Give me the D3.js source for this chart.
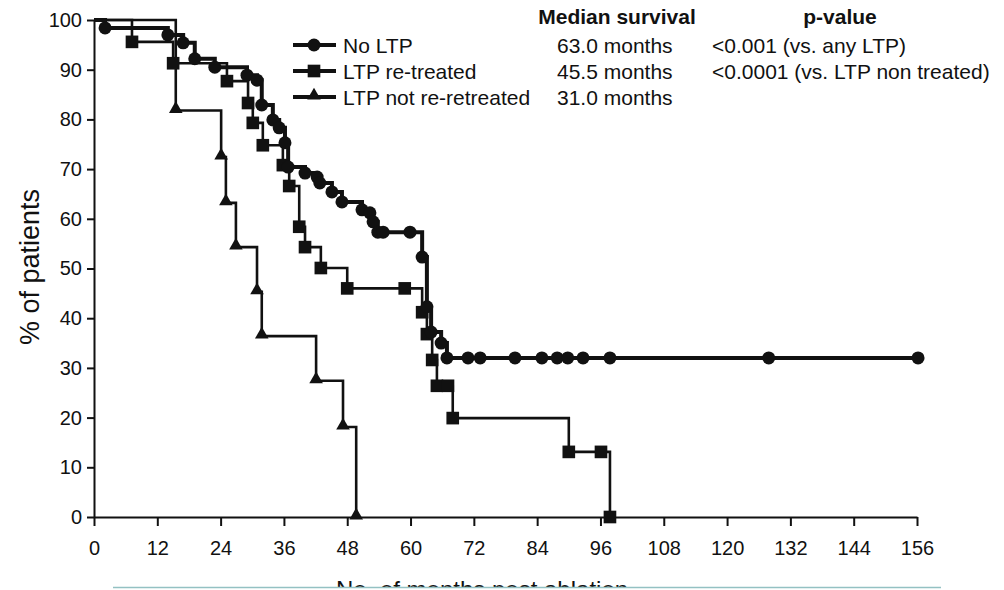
<!DOCTYPE html>
<html>
<head>
<meta charset="utf-8">
<script src="https://cdn.jsdelivr.net/npm/d3@7"></script>
<style>
  html, body { margin: 0; padding: 0; background: #fff; }
  svg { display: block; }
  text { font-family: "Liberation Sans", Arial, Helvetica, sans-serif; fill: #111; }
</style>
</head>
<body>
<svg id="chart" width="1004" height="590"></svg>
<script>
// Kaplan–Meier survival by local tumour progression (LTP) status.
// Each series: times (months) and survival (%) at every recorded point
// (events drop the curve, censored points sit on the flat segments).
const noLtpTimes = [2.1, 14.0, 16.9, 19.1, 22.9, 29.0, 30.9, 31.8, 33.9, 35.1, 36.2, 36.8,
  40.0, 42.3, 42.8, 45.1, 47.0, 50.8, 52.3, 52.9, 53.8, 54.8, 59.9, 62.2, 63.1, 63.9, 65.8,
  66.9, 70.9, 73.2, 79.8, 84.9, 87.8, 89.8, 92.7, 97.8, 127.9, 156.2];
const noLtpSurv = [98.4, 97.0, 95.4, 92.2, 90.5, 88.9, 87.9, 82.9, 79.9, 78.3, 75.3, 70.4,
  69.2, 68.4, 67.2, 65.4, 63.4, 61.8, 61.2, 59.4, 57.3, 57.3, 57.3, 52.3, 42.3, 37.2, 35.0,
  32.0, 32.0, 32.0, 32.0, 32.0, 32.0, 32.0, 32.0, 32.0, 32.0, 32.0];

const reTreatedTimes = [7.2, 15.0, 25.2, 29.2, 30.1, 32.0, 35.8, 37.0, 38.9, 40.0, 43.0, 48.0,
  58.9, 62.2, 63.1, 64.1, 65.0, 67.1, 68.0, 90.0, 96.1, 97.8];
const reTreatedSurv = [95.6, 91.3, 87.7, 83.3, 79.3, 74.8, 70.8, 66.6, 58.4, 54.3, 50.1, 46.0,
  46.0, 41.2, 36.8, 31.6, 26.4, 26.4, 19.9, 13.1, 13.1, 0];

const notReTreatedTimes = [15.5, 24.1, 25.0, 26.9, 30.9, 31.8, 42.1, 47.2, 49.7];
const notReTreatedSurv = [81.8, 72.4, 63.2, 54.3, 45.3, 36.4, 27.4, 18.1, 0];

const seriesNames = ["No LTP", "LTP re-treated", "LTP not re-retreated"];
const medianLabels = ["63.0 months", "45.5 months", "31.0 months"];
const pValueLabels = ["<0.001 (vs. any LTP)", "<0.0001 (vs. LTP non treated)", ""];

const xTicks = [0, 12, 24, 36, 48, 60, 72, 84, 96, 108, 120, 132, 144, 156];
const yTicks = [0, 10, 20, 30, 40, 50, 60, 70, 80, 90, 100];

const svg = d3.select("#chart");
const ink = "#111";

const x = d3.scaleLinear().domain([0, 156]).range([94, 917]);
const y = d3.scaleLinear().domain([0, 100]).range([517, 20]);

// Axes
const yAxis = svg.append("g")
  .attr("transform", `translate(${x(0)},0)`)
  .call(d3.axisLeft(y).tickValues(yTicks).tickSize(7).tickSizeOuter(0).tickPadding(5));
const xAxis = svg.append("g")
  .attr("transform", `translate(0,${y(0)})`)
  .call(d3.axisBottom(x).tickValues(xTicks).tickSize(9).tickSizeOuter(0).tickPadding(15));

[yAxis, xAxis].forEach(g => {
  g.selectAll(".domain").attr("stroke", ink).attr("stroke-width", 2);
  g.selectAll(".tick line").attr("stroke", ink).attr("stroke-width", 2);
  g.selectAll(".tick text").attr("fill", ink)
    .style("font-size", "20px")
    .style("font-family", "'Liberation Sans', Arial, sans-serif");
});

// Survival curves
const stepLine = d3.line()
  .x(d => x(d[0]))
  .y(d => y(d[1]))
  .curve(d3.curveStepAfter);

const series = [
  { times: noLtpTimes, surv: noLtpSurv, shape: "circle", width: 4 },
  { times: reTreatedTimes, surv: reTreatedSurv, shape: "square", width: 2.6 },
  { times: notReTreatedTimes, surv: notReTreatedSurv, shape: "triangle", width: 2.6 }
];

function marker(g, shape, cx, cy) {
  if (shape === "circle") {
    g.append("circle").attr("cx", cx).attr("cy", cy).attr("r", 6.5).attr("fill", ink);
  } else if (shape === "square") {
    g.append("path").attr("d", d3.symbol(d3.symbolSquare, 160)())
      .attr("transform", `translate(${cx},${cy})`).attr("fill", ink);
  } else {
    g.append("path").attr("d", d3.symbol(d3.symbolTriangle, 80)())
      .attr("transform", `translate(${cx},${cy - 1.5})`).attr("fill", ink);
  }
}

// draw the thinner curves first so the thick one sits on top
[2, 1, 0].forEach(i => {
  const s = series[i];
  const pts = [[0, 100]].concat(s.times.map((t, k) => [t, s.surv[k]]));
  const g = svg.append("g");
  g.append("path")
    .attr("d", stepLine(pts))
    .attr("fill", "none")
    .attr("stroke", ink)
    .attr("stroke-width", s.width)
    .attr("stroke-linejoin", "miter");
  s.times.forEach((t, k) => marker(g, s.shape, x(t), y(s.surv[k])));
});

// Legend with medians and p-values
const legend = svg.append("g");
legend.append("text").attr("x", 617).attr("y", 24).attr("text-anchor", "middle")
  .style("font-size", "21px").style("font-weight", "bold").text("Median survival");
legend.append("text").attr("x", 840).attr("y", 24).attr("text-anchor", "middle")
  .style("font-size", "21px").style("font-weight", "bold").text("p-value");

const rowY = [45, 71, 97];
series.forEach((s, i) => {
  const cy = rowY[i];
  legend.append("line").attr("x1", 293).attr("x2", 336).attr("y1", cy).attr("y2", cy)
    .attr("stroke", ink).attr("stroke-width", 4);
  marker(legend, s.shape, 314, cy);
  legend.append("text").attr("x", 343).attr("y", cy + 7.5)
    .style("font-size", "21px").text(seriesNames[i]);
  legend.append("text").attr("x", 557).attr("y", cy + 7.5)
    .style("font-size", "21px").text(medianLabels[i]);
  if (pValueLabels[i]) {
    legend.append("text").attr("x", 712).attr("y", cy + 7.5)
      .style("font-size", "21px").text(pValueLabels[i]);
  }
});

// Axis titles
svg.append("text")
  .attr("transform", `translate(39,${267}) rotate(-90)`)
  .attr("text-anchor", "middle")
  .style("font-size", "27px")
  .text("% of patients");

svg.append("text")
  .attr("x", 482).attr("y", 598)
  .attr("text-anchor", "middle")
  .style("font-size", "24px")
  .text("No. of months post ablation");

// page edge strip below the frame rule
svg.append("rect").attr("x", 0).attr("y", 588).attr("width", 1004).attr("height", 4).attr("fill", "#fff");
svg.append("line").attr("x1", 113).attr("x2", 941).attr("y1", 587.5).attr("y2", 587.5)
  .attr("stroke", "#94c1c3").attr("stroke-width", 1.5);
</script>
</body>
</html>
